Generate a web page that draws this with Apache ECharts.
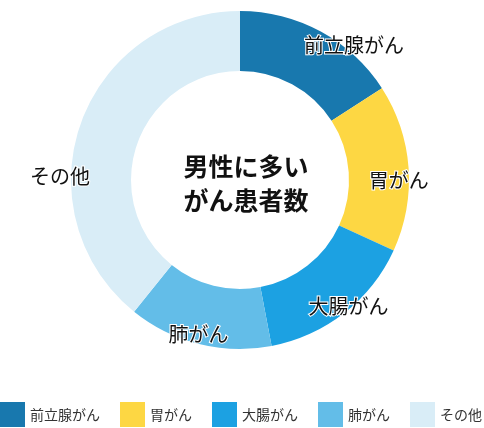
<!DOCTYPE html>
<html>
<head>
<meta charset="utf-8">
<script src="https://cdn.jsdelivr.net/npm/echarts@6/dist/echarts.min.js"></script>
<style>
  html, body { margin: 0; padding: 0; background: #fff; }
  #main { width: 484px; height: 428px; }
</style>
</head>
<body>
<div id="main"></div>
<script>
// 男性に多いがん患者数（割合, %）
const categories = ['前立腺がん', '胃がん', '大腸がん', '肺がん', 'その他'];
const shares = [15.9, 16.0, 15.2, 13.8, 39.3];
const colors = ['#1878ae', '#fdd743', '#1ca1e2', '#63bde8', '#d9edf7'];

// ラベルの微調整（リング中央からのずれ）
const labelNudge = [
  { dx: 46, dy: -10 },
  { dx: 17, dy: 11 },
  { dx: 21, dy: 15 },
  { dx: -7, dy: 17 },
  { dx: -46, dy: 44 }
];

const font = '"Noto Sans CJK JP", "Noto Sans", sans-serif';
const chart = echarts.init(document.getElementById('main'));

chart.setOption({
  animation: false,
  color: colors,
  title: {
    text: '男性に多い\nがん患者数',
    left: 241,
    top: 144,
    textAlign: 'center',
    textStyle: {
      fontFamily: font,
      fontSize: 25,
      fontWeight: 'bold',
      color: '#111',
      lineHeight: 34
    }
  },
  legend: {
    left: 0,
    top: 402,
    icon: 'rect',
    itemWidth: 25,
    itemHeight: 25,
    itemGap: 20,
    padding: 0,
    selectedMode: false,
    textStyle: { fontFamily: font, fontSize: 14, color: '#333' },
    data: categories
  },
  series: [{
    type: 'pie',
    center: [240, 180],
    radius: [109, 169],
    startAngle: 90,
    clockwise: true,
    silent: true,
    label: {
      show: true,
      position: 'inside',
      formatter: '{b}',
      fontFamily: font,
      fontSize: 20,
      color: '#111',
      textBorderColor: '#fff',
      textBorderWidth: 2
    },
    labelLine: { show: false },
    labelLayout: (p) => labelNudge[p.dataIndex],
    data: categories.map((name, i) => ({ name: name, value: shares[i] }))
  }]
});
</script>
</body>
</html>
